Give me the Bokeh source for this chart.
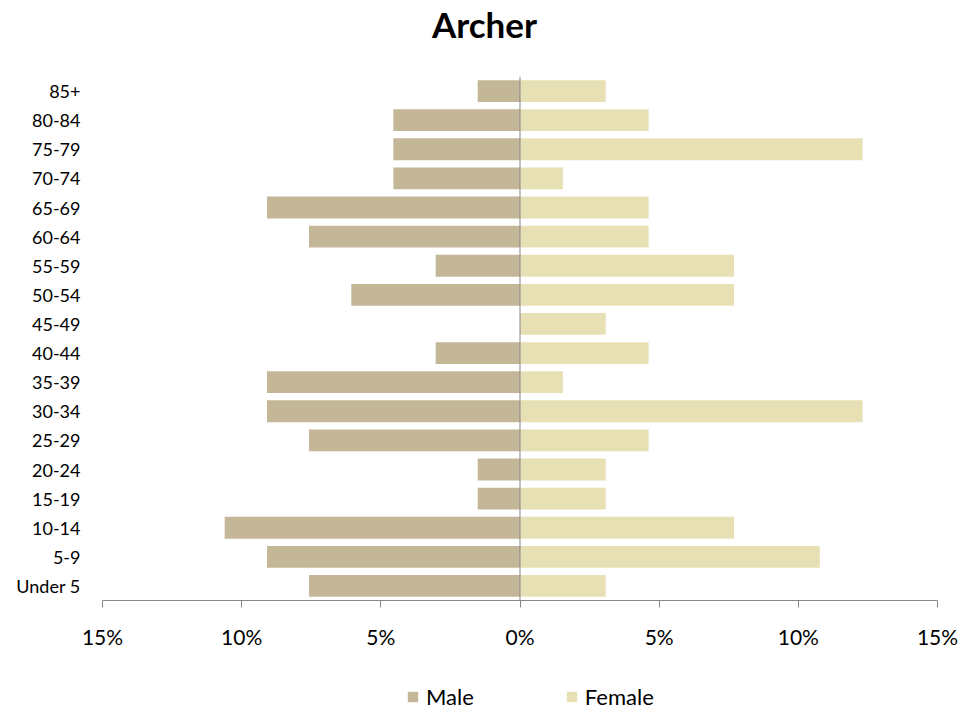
from bokeh.plotting import figure
from bokeh.models import (Range1d, FixedTicker, Span, Legend, LegendItem,
                          ColumnDataSource)
from bokeh.core.properties import value
from bokeh.layouts import column
from bokeh.embed import file_html
from bokeh.resources import INLINE

# ---- data (percent of each sex) ----
title_text = "Archer"
age_groups = ["85+", "80-84", "75-79", "70-74", "65-69", "60-64", "55-59",
              "50-54", "45-49", "40-44", "35-39", "30-34", "25-29", "20-24",
              "15-19", "10-14", "5-9", "Under 5"]
male_pct = [1.52, 4.55, 4.55, 4.55, 9.09, 7.58, 3.03, 6.06, 0.0, 3.03,
            9.09, 9.09, 7.58, 1.52, 1.52, 10.61, 9.09, 7.58]
female_pct = [3.08, 4.62, 12.31, 1.54, 4.62, 4.62, 7.69, 7.69, 3.08, 4.62,
              1.54, 12.31, 4.62, 3.08, 3.08, 7.69, 10.77, 3.08]
x_ticks = [-15, -10, -5, 0, 5, 10, 15]
x_tick_labels = ["15%", "10%", "5%", "0%", "5%", "10%", "15%"]
series_names = ["Male", "Female"]

MALE_C = "#C4B797"
FEMALE_C = "#E8E0B5"
AXIS_C = "#868686"
FONT = "Lato"
W = 979
LEFT, RIGHT = 102, 42


def strip(height, y_start, y_end):
    f = figure(width=W, height=height, output_backend="svg",
               toolbar_location=None,
               x_range=Range1d(LEFT, W - RIGHT), y_range=Range1d(y_start, y_end),
               x_axis_type=None, y_axis_type=None,
               min_border_left=LEFT, min_border_right=RIGHT,
               min_border_top=0, min_border_bottom=0)
    f.xgrid.visible = False
    f.ygrid.visible = False
    f.outline_line_color = None
    return f


# ---- title strip (y measured downward in pixels) ----
tt = strip(50, 50, 0)
tt.text(x=[484], y=[23], text=[title_text],
        text_font=value(FONT), text_font_size="35px", text_font_style="bold",
        text_color="#000000", text_align="center", text_baseline="middle")

# ---- main chart ----
factors = list(reversed(age_groups))
src = ColumnDataSource(dict(
    age=age_groups,
    male_left=[-v for v in male_pct],
    female=female_pct,
))

p = figure(width=W, height=621, output_backend="svg", toolbar_location=None,
           y_range=factors, x_range=Range1d(-15, 15),
           min_border_left=LEFT, min_border_right=RIGHT,
           min_border_top=26, min_border_bottom=71)

p.hbar(y="age", left="male_left", right=0, height=0.75,
       color=MALE_C, line_color=None, source=src)
p.hbar(y="age", left=0, right="female", height=0.75,
       color=FEMALE_C, line_color=None, source=src)

p.add_layout(Span(location=0, dimension="height", line_color=AXIS_C,
                  line_width=1))

p.xgrid.visible = False
p.ygrid.visible = False
p.outline_line_color = None

xa = p.xaxis[0]
xa.ticker = FixedTicker(ticks=x_ticks)
xa.major_label_overrides = {t: l for t, l in zip(x_ticks, x_tick_labels)}
xa.axis_line_color = AXIS_C
xa.major_tick_line_color = AXIS_C
xa.major_tick_out = 7
xa.major_tick_in = 0
xa.minor_tick_line_color = None
xa.major_label_standoff = 16
xa.major_label_text_font = FONT
xa.major_label_text_font_size = "21px"
xa.major_label_text_color = "#000000"

ya = p.yaxis[0]
ya.axis_line_color = None
ya.major_tick_line_color = None
ya.minor_tick_line_color = None
ya.major_tick_out = 0
ya.major_tick_in = 0
ya.major_label_standoff = 22
ya.major_label_text_font = FONT
ya.major_label_text_font_size = "18px"
ya.major_label_text_color = "#000000"

# ---- legend strip ----
lg = strip(40, 0, 40)
off = ColumnDataSource(dict(y=[-100], left=[0], right=[1]))
lm = lg.hbar(y="y", left="left", right="right", height=1, color=MALE_C,
             line_color=None, source=off)
lf = lg.hbar(y="y", left="left", right="right", height=1, color=FEMALE_C,
             line_color=None, source=off)

legend = Legend(items=[LegendItem(label=series_names[0], renderers=[lm]),
                       LegendItem(label=series_names[1], renderers=[lf])],
                orientation="horizontal", location=(304, 1),
                glyph_width=13, glyph_height=13, label_standoff=7,
                spacing=91, padding=0, margin=0,
                border_line_color=None, background_fill_alpha=0,
                label_text_font=FONT, label_text_font_size="22px",
                label_text_color="#000000")
lg.add_layout(legend, "center")

open("out.html", "w").write(file_html(column(tt, p, lg, spacing=0), INLINE))
